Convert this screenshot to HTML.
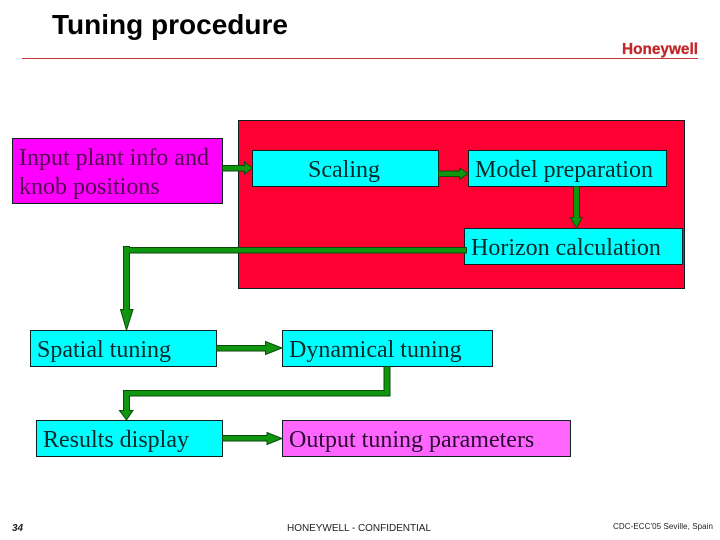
<!DOCTYPE html>
<html>
<head>
<meta charset="utf-8">
<style>
html,body{margin:0;padding:0;background:#fff;}
svg{display:block;}
.s{font-family:"Liberation Serif",serif;font-size:24px;fill:#0a2a2a;}
.f{font-family:"Liberation Sans",sans-serif;}
rect.b{stroke:#102020;stroke-width:1;}
.g{fill:#0f960f;stroke:#0b4a0b;stroke-width:1;}
</style>
</head>
<body>
<svg width="720" height="540" viewBox="0 0 720 540" xmlns="http://www.w3.org/2000/svg">
<rect width="720" height="540" fill="#fff"/>
<text x="52" y="34" class="f" font-size="28" font-weight="700" fill="#000" textLength="236" lengthAdjust="spacingAndGlyphs">Tuning procedure</text>
<rect x="22" y="58" width="676" height="1" fill="#c0383a"/>
<text x="622" y="54" class="f" font-size="15.5" font-weight="700" fill="#c0282c" stroke="#c0282c" stroke-width="0.3" textLength="76" lengthAdjust="spacingAndGlyphs">Honeywell</text>

<rect class="b" x="238.5" y="120.5" width="446" height="168" fill="#ff0033"/>
<rect class="b" x="12.5" y="138.5" width="210" height="65" fill="#ff00ff"/>
<rect class="b" x="252.5" y="150.5" width="186" height="36" fill="#00ffff"/>
<rect class="b" x="468.5" y="150.5" width="198" height="36" fill="#00ffff"/>
<rect class="b" x="464.5" y="228.5" width="218" height="36" fill="#00ffff"/>
<rect class="b" x="30.5" y="330.5" width="186" height="36" fill="#00ffff"/>
<rect class="b" x="282.5" y="330.5" width="210" height="36" fill="#00ffff"/>
<rect class="b" x="36.5" y="420.5" width="186" height="36" fill="#00ffff"/>
<rect class="b" x="282.5" y="420.5" width="288" height="36" fill="#ff66ff"/>

<path class="g" d="M222.5 165.5H244.5V162L252.5 168L244.5 174V171H222.5Z"/>
<path class="g" d="M438.5 171H459.5V168L468 173.5L459.5 179.5V176.5H438.5Z"/>
<path class="g" d="M573.5 186.5H579.5V217.5H582L576.5 228L570.5 217.5H573.5Z"/>
<path class="g" d="M466.5 247.5V253H129.5V309.5H133L126.5 330L120.5 309.5H123.5V246.5H129.5V247.5Z"/>
<path class="g" d="M216.5 345.5H265.5V341.5L282 348L265.5 354.5V351H216.5Z"/>
<path class="g" d="M384 366.5H390V396H129.5V410.5H133L126.5 420L119.5 410.5H123.5V390.5H384Z"/>
<path class="g" d="M222.5 435.5H267V432.5L282 438.5L267 444.5V441H222.5Z"/>

<text x="19" y="165" class="s" style="fill:#50084f">Input plant info and</text>
<text x="19" y="194" class="s" style="fill:#50084f">knob positions</text>
<text x="308" y="177" class="s">Scaling</text>
<text x="475" y="177" class="s">Model preparation</text>
<text x="471" y="255" class="s">Horizon calculation</text>
<text x="37" y="357" class="s">Spatial tuning</text>
<text x="289" y="357" class="s">Dynamical tuning</text>
<text x="43" y="447" class="s">Results display</text>
<text x="289" y="447" class="s" style="fill:#2a0a30">Output tuning parameters</text>

<text x="12" y="531" class="f" font-size="10" font-style="italic" font-weight="700" fill="#222">34</text>
<text x="287" y="531" class="f" font-size="10" fill="#222" textLength="144">HONEYWELL - CONFIDENTIAL</text>
<text x="613" y="529" class="f" font-size="8" fill="#222" textLength="100">CDC-ECC'05 Seville, Spain</text>
</svg>
</body>
</html>
